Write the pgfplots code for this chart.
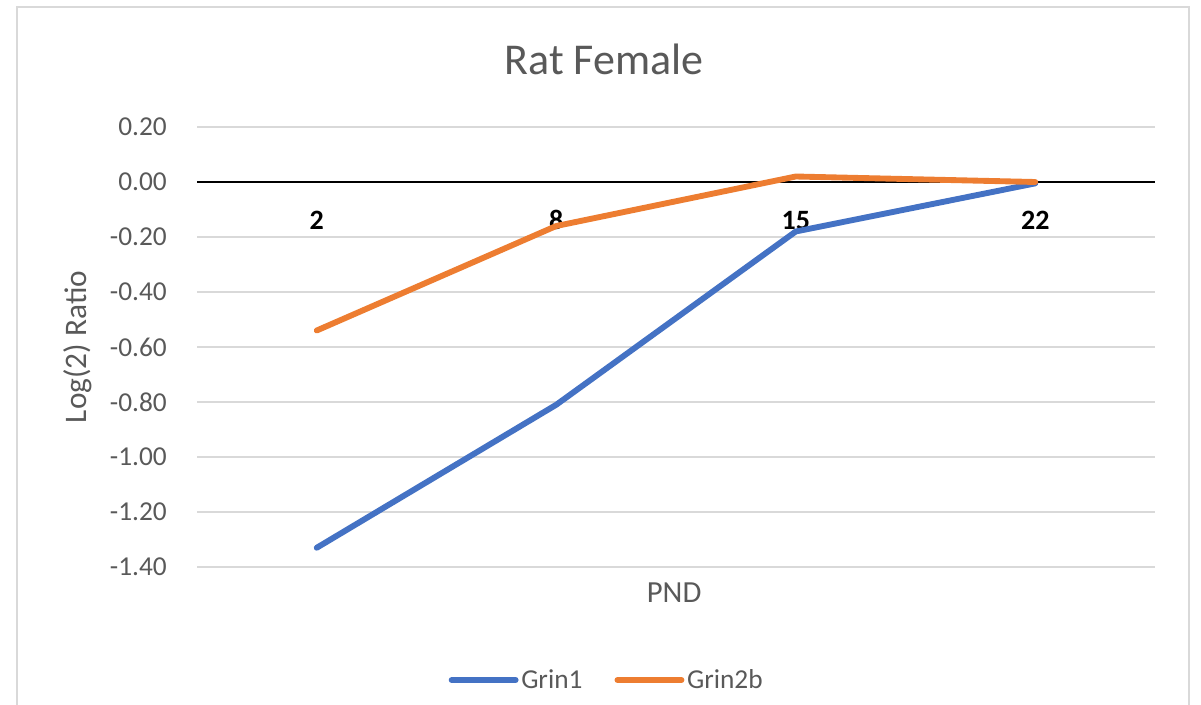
\documentclass[border=0pt]{standalone}
\usepackage{pgfplots}
\pgfplotsset{compat=1.18}
\usepackage{fontspec}
\setmainfont{Carlito}

\definecolor{grinblue}{HTML}{4472C4}
\definecolor{grinorange}{HTML}{ED7D31}
\definecolor{gridgray}{HTML}{D9D9D9}
\definecolor{textgray}{HTML}{595959}
\definecolor{framegray}{HTML}{D9D9D9}

\begin{document}
\begin{tikzpicture}
  % page area and chart frame
  \useasboundingbox (0pt,0pt) rectangle (900.75pt,528pt);
  \draw[framegray, line width=1.2pt] (12.75pt,-12pt) -- (12.75pt,522.75pt) -- (891.75pt,522.75pt) -- (891.75pt,-12pt);

  \begin{axis}[
    at={(147.75pt,102.75pt)}, anchor=south west,
    scale only axis,
    width=718.5pt, height=330pt,
    xmin=-0.5, xmax=3.5,
    ymin=-1.4, ymax=0.2,
    xtick={0,1,2,3},
    xticklabels={2,8,15,22},
    ytick={-1.4,-1.2,-1,-0.8,-0.6,-0.4,-0.2,0,0.2},
    axis line style={draw=none},
    major tick length=0pt,
    ymajorgrids,
    grid style={gridgray, line width=1pt},
    extra y ticks={0},
    extra y tick labels={},
    extra y tick style={grid style={black, line width=1.1pt}},
    yticklabel style={
      /pgf/number format/fixed,
      /pgf/number format/fixed zerofill,
      /pgf/number format/precision=2,
      /pgf/number format/assume math mode=true,
      font=\fontsize{20.5pt}{24pt}\selectfont, text=textgray,
      anchor=east, inner sep=0pt, xshift=-22.5pt},
    xticklabel style={
      font=\fontsize{21pt}{25pt}\selectfont\bfseries, text=black,
      anchor=base, inner sep=0pt, yshift=253.5pt},
    title={Rat Female},
    title style={font=\fontsize{33pt}{38pt}\selectfont, text=textgray,
      at={(axis description cs:0.425,1.135)}, anchor=center},
    xlabel={PND},
    xlabel style={font=\fontsize{23pt}{27pt}\selectfont, text=textgray,
      at={(axis description cs:0.498,-0.058)}, anchor=center},
    ylabel={Log(2) Ratio},
    ylabel style={font=\fontsize{23.5pt}{27pt}\selectfont, text=textgray,
      at={(axis description cs:-0.125,0.5)}, anchor=center, rotate=0},
    legend columns=2,
    legend style={draw=none, fill=none,
      at={(axis description cs:0.428,-0.257)}, anchor=center,
      font=\fontsize{20.5pt}{24pt}\selectfont, text=textgray,
      /tikz/every even column/.append style={column sep=22pt},
      inner sep=0pt},
    legend image code/.code={
      \draw[#1, line cap=round] (0pt,0pt) -- (48pt,0pt);},
    every axis plot/.append style={line width=4.4pt, line cap=round, line join=round},
  ]
    \addplot[grinblue] coordinates {(0,-1.33) (1,-0.81) (2,-0.18) (3,-0.005)};
    \addlegendentry{Grin1}
    \addplot[grinorange] coordinates {(0,-0.54) (1,-0.16) (2,0.02) (3,0.00)};
    \addlegendentry{Grin2b}
  \end{axis}
\end{tikzpicture}
\end{document}
